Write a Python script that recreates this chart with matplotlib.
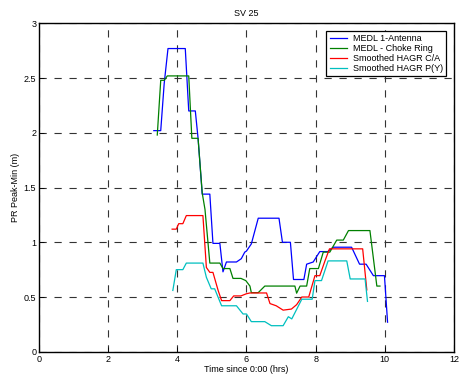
import matplotlib
matplotlib.use('Agg')
import matplotlib.pyplot as plt

plt.rcParams['font.family'] = ['Liberation Sans', 'DejaVu Sans']
plt.rcParams['font.size'] = 6.5

# MEDL 1-Antenna
medl1_t = [3.32, 3.52, 3.62, 3.73, 4.23, 4.33, 4.52, 4.60, 4.72, 4.94, 5.03, 5.23,
           5.32, 5.42, 5.71, 5.85, 5.95, 6.00, 6.14, 6.34, 6.94, 7.04, 7.27, 7.36,
           7.66, 7.74, 7.93, 8.12, 8.35, 8.51, 9.04, 9.27, 9.46, 9.67, 9.99, 10.08]
medl1_v = [2.02, 2.02, 2.45, 2.77, 2.77, 2.20, 2.20, 1.95, 1.44, 1.44, 0.99, 0.99,
           0.73, 0.82, 0.82, 0.85, 0.91, 0.92, 0.985, 1.22, 1.22, 1.00, 1.00, 0.66,
           0.66, 0.80, 0.82, 0.915, 0.915, 0.955, 0.955, 0.80, 0.80, 0.695, 0.695, 0.27]

# MEDL - Choke Ring
choke_t = [3.42, 3.52, 3.62, 3.71, 4.33, 4.42, 4.60, 4.72, 4.80, 4.94, 5.23, 5.32,
           5.52, 5.61, 5.84, 5.98, 6.10, 6.14, 6.34, 6.53, 7.40, 7.45, 7.55, 7.74,
           7.83, 8.08, 8.22, 8.41, 8.61, 8.80, 8.95, 9.57, 9.77, 9.86]
choke_v = [1.98, 2.48, 2.48, 2.52, 2.52, 1.95, 1.95, 1.45, 1.30, 0.81, 0.81, 0.76,
           0.76, 0.67, 0.67, 0.65, 0.60, 0.54, 0.54, 0.60, 0.60, 0.535, 0.60, 0.60,
           0.76, 0.76, 0.91, 0.91, 1.02, 1.02, 1.107, 1.107, 0.60, 0.60]

# Smoothed HAGR C/A
hagr_ca_t = [3.85, 3.97, 4.04, 4.16, 4.26, 4.74, 4.84, 4.94, 5.03, 5.18, 5.28, 5.52,
             5.63, 5.84, 6.00, 6.10, 6.58, 6.68, 6.86, 7.06, 7.30, 7.45, 7.60, 7.80,
             7.98, 8.12, 8.27, 8.40, 8.90, 9.36, 9.48]
hagr_ca_v = [1.12, 1.12, 1.17, 1.17, 1.244, 1.244, 0.77, 0.725, 0.725, 0.56, 0.467, 0.467,
             0.51, 0.51, 0.53, 0.537, 0.537, 0.44, 0.42, 0.38, 0.39, 0.43, 0.50, 0.50,
             0.695, 0.695, 0.83, 0.94, 0.94, 0.94, 0.565]

# Smoothed HAGR P(Y)
hagr_py_t = [3.87, 3.97, 4.16, 4.26, 4.74, 4.84, 4.98, 5.08, 5.28, 5.71, 5.90, 6.00,
             6.14, 6.53, 6.72, 7.06, 7.21, 7.31, 7.60, 7.90, 7.98, 8.17, 8.36, 8.90,
             9.00, 9.43, 9.50]
hagr_py_v = [0.56, 0.75, 0.75, 0.81, 0.81, 0.68, 0.575, 0.575, 0.42, 0.42, 0.345, 0.345,
             0.275, 0.275, 0.238, 0.238, 0.32, 0.30, 0.48, 0.48, 0.65, 0.65, 0.83, 0.83,
             0.665, 0.665, 0.46]

fig = plt.figure(figsize=(4.59, 3.77), dpi=100)
ax = fig.add_axes([0.085, 0.067, 0.904, 0.871])

ax.plot(medl1_t, medl1_v, color='#0000ff', lw=0.9, label='MEDL 1-Antenna')
ax.plot(choke_t, choke_v, color='#008000', lw=0.9, label='MEDL - Choke Ring')
ax.plot(hagr_ca_t, hagr_ca_v, color='#ff0000', lw=0.9, label='Smoothed HAGR C/A')
ax.plot(hagr_py_t, hagr_py_v, color='#00bfbf', lw=0.9, label='Smoothed HAGR P(Y)')

ax.set_xlim(0, 12)
ax.set_ylim(0, 3)
ax.set_xticks(range(0, 13, 2))
ax.set_yticks([0, 0.5, 1, 1.5, 2, 2.5, 3])
ax.set_yticklabels(['0', '0.5', '1', '1.5', '2', '2.5', '3'])
ax.tick_params(direction='in', length=3.5, width=0.6, pad=2, labelsize=6.5)
ax.grid(True, color='0.2', linestyle=(0, (6.5, 7)), lw=0.8)
for s in ax.spines.values():
    s.set_linewidth(1.0)

ax.set_title('SV 25', fontsize=6.5, pad=5)
ax.set_xlabel('Time since 0:00 (hrs)', fontsize=6.5, labelpad=1)
ax.set_ylabel('PR Peak-Min (m)', fontsize=6.5, labelpad=3)

leg = ax.legend(loc='upper right', fontsize=6.5, frameon=True, fancybox=False,
                borderpad=0.35, labelspacing=0.1, handlelength=1.9,
                borderaxespad=0.85, handletextpad=0.7)
leg.get_frame().set_edgecolor('black')
leg.get_frame().set_linewidth(0.9)
leg.get_frame().set_alpha(1)

fig.savefig('out.png', dpi=100)
